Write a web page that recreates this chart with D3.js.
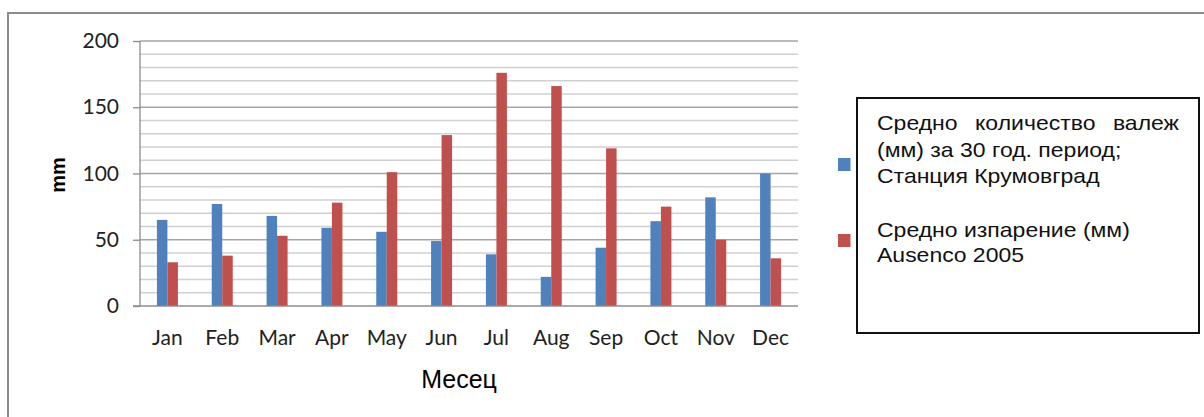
<!DOCTYPE html>
<html>
<head>
    <script src="https://d3js.org/d3.v7.min.js"></script>
    <style>
        body { margin: 0; background: #fff; }
    </style>
</head>
<body>
    <svg width="1204" height="417"></svg>
    <script>
    // data
    var months = ["Jan","Feb","Mar","Apr","May","Jun","Jul","Aug","Sep","Oct","Nov","Dec"];
    var rainfall = [65, 77, 68, 59, 56, 49, 39, 22, 44, 64, 82, 100];
    var evaporation = [33, 38, 53, 78, 101, 129, 176, 166, 119, 75, 50, 36];
    var yTicks = [0, 50, 100, 150, 200];
    var seriesNames = [
        ["Средно количество валеж", "(мм) за 30 год. период;", "Станция Крумовград"],
        ["Средно изпарение (мм)", "Ausenco 2005"]
    ];
    var colors = ["#4f81bd", "#c0504d"];

    var svg = d3.select("svg");

    // outer frame (only top and left edges are visible)
    svg.append("path")
        .attr("d", "M8,420 L8,13 L1210,13")
        .attr("fill", "none").attr("stroke", "#8c8c8c").attr("stroke-width", 2);

    var plotL = 140, plotR = 798, plotT = 41, plotB = 306;
    var x = d3.scaleBand().domain(months).range([plotL, plotR]);
    var y = d3.scaleLinear().domain([0, 200]).range([plotB, plotT]);

    // minor + major gridlines every 10
    svg.append("g").selectAll("line").data(d3.range(10, 201, 10))
        .join("line")
        .attr("x1", plotL).attr("x2", plotR)
        .attr("y1", function(d){return y(d);}).attr("y2", function(d){return y(d);})
        .attr("stroke", function(d){return d % 50 == 0 ? "#a6a6a6" : "#d0d0d0";})
        .attr("stroke-width", 1.3);

    // bars
    var barW = 10.5;
    var groups = svg.append("g");
    groups.selectAll("rect.rain").data(rainfall).join("rect")
        .attr("class", "rain")
        .attr("x", function(d, i){return x(months[i]) + x.bandwidth()/2 - barW;})
        .attr("width", barW)
        .attr("y", function(d){return y(d);})
        .attr("height", function(d){return y(0) - y(d);})
        .attr("fill", colors[0]);
    groups.selectAll("rect.evap").data(evaporation).join("rect")
        .attr("class", "evap")
        .attr("x", function(d, i){return x(months[i]) + x.bandwidth()/2;})
        .attr("width", barW)
        .attr("y", function(d){return y(d);})
        .attr("height", function(d){return y(0) - y(d);})
        .attr("fill", colors[1]);

    // y axis
    var yAxis = svg.append("g").attr("transform", "translate(" + plotL + ",0)")
        .call(d3.axisLeft(y).tickValues(yTicks).tickSize(7).tickPadding(14));
    yAxis.select(".domain").attr("stroke", "#8c8c8c").attr("stroke-width", 1.3).attr("d", "M0," + plotT + "V" + plotB);
    yAxis.selectAll(".tick line").attr("stroke", "#8c8c8c").attr("stroke-width", 1.3);
    yAxis.selectAll(".tick text").attr("font-family", "Lato").attr("font-size", 21).attr("fill", "#222");

    // x axis
    var xAxis = svg.append("g").attr("transform", "translate(0," + plotB + ")")
        .call(d3.axisBottom(x).tickSize(0).tickPadding(24));
    xAxis.select(".domain").attr("stroke", "#8c8c8c").attr("stroke-width", 1.5)
        .attr("d", "M" + (plotL - 7) + ",0H" + plotR);
    xAxis.selectAll(".tick text").attr("font-family", "Lato").attr("font-size", 21).attr("fill", "#222");

    // axis titles
    svg.append("text")
        .attr("transform", "translate(65,175) rotate(-90)")
        .attr("text-anchor", "middle")
        .attr("font-family", "Liberation Sans").attr("font-weight", "bold").attr("font-size", 20)
        .text("mm");
    svg.append("text")
        .attr("x", 459).attr("y", 388)
        .attr("text-anchor", "middle")
        .attr("font-family", "Liberation Sans").attr("font-size", 25)
        .text("Месец");

    // legend
    svg.append("rect")
        .attr("x", 857).attr("y", 98).attr("width", 342).attr("height", 235)
        .attr("fill", "none").attr("stroke", "#111").attr("stroke-width", 2);

    var baselines = [[130.5, 157, 183], [237, 262.5]];
    var swatchY = [158, 234];
    var textL = 877, textR = 1179, stretch = 1.15;
    var legendText = svg.append("g")
        .attr("transform", "translate(" + textL + ",0) scale(" + stretch + ",1)");
    seriesNames.forEach(function(lines, s){
        svg.append("rect")
            .attr("x", 838).attr("y", swatchY[s]).attr("width", 12.5).attr("height", 13)
            .attr("fill", colors[s]);
        lines.forEach(function(t, j){
            var txt = legendText.append("text")
                .attr("x", 0).attr("y", baselines[s][j])
                .attr("font-family", "Liberation Sans").attr("font-size", 20).attr("fill", "#111")
                .text(t);
            if (s == 0 && j == 0) {
                // justified first line: stretch the gaps between words only
                var w = txt.node().getComputedTextLength();
                var gaps = t.split(" ").length - 1;
                txt.attr("word-spacing", ((textR - textL) / stretch - w) / gaps);
            }
        });
    });
    </script>
</body>
</html>
